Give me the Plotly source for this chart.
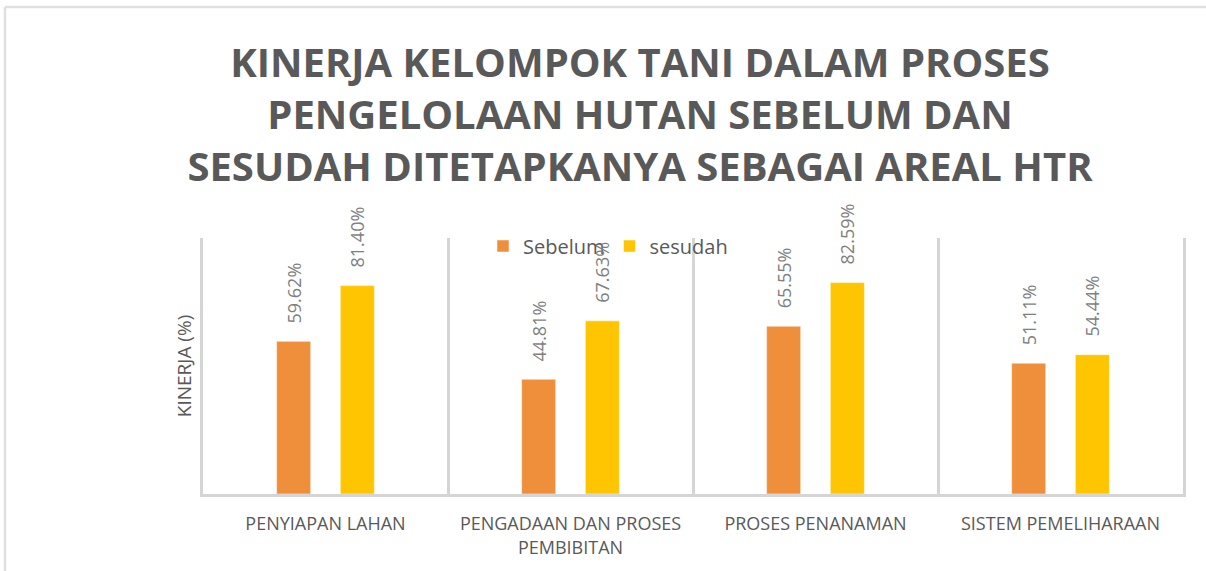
import plotly.graph_objects as go

categories = ["PENYIAPAN LAHAN", "PENGADAAN DAN PROSES<br>PEMBIBITAN", "PROSES PENANAMAN", "SISTEM PEMELIHARAAN"]
sebelum = [59.62, 44.81, 65.55, 51.11]
sesudah = [81.40, 67.63, 82.59, 54.44]
series_names = ["Sebelum", "sesudah"]
colors = ["#EF8F3C", "#FFC500"]

title_text = ("KINERJA KELOMPOK TANI DALAM PROSES<br>"
              "PENGELOLAAN HUTAN SEBELUM DAN<br>"
              "SESUDAH DITETAPKANYA SEBAGAI AREAL HTR")

fig = go.Figure()
for name, vals, col in zip(series_names, [sebelum, sesudah], colors):
    fig.add_trace(go.Bar(
        x=categories, y=vals, name=name,
        marker=dict(color=col, line=dict(color="#FFFFFF", width=0.5)),
    ))

# data labels (rotated), offset to sit over each bar of the group
plot_w = 1206 - 203 - 23
plot_h = 571 - 238 - 77
cat_w = plot_w / len(categories)
bargap = 0.48
slot = cat_w * (1 - bargap) / 2
for vals, sign in [(sebelum, -1), (sesudah, 1)]:
    for c, v in zip(categories, vals):
        fig.add_annotation(
            x=c, y=v, xref="x", yref="y",
            text=f"{v:.2f}%", showarrow=False, textangle=-90,
            xshift=sign * slot / 2, yshift=16,
            xanchor="center", yanchor="bottom",
            font=dict(family="Open Sans", size=18, color="#7F7F7F"),
        )

# chart border (top and left edges)
fig.add_shape(type="line", xref="paper", yref="paper",
              x0=-198 / plot_w, x1=1.03, y0=(494 - 7) / plot_h, y1=(494 - 7) / plot_h,
              line=dict(color="#E0E0E0", width=2.5))
fig.add_shape(type="line", xref="paper", yref="paper",
              x0=-198 / plot_w, x1=-198 / plot_w, y0=(494 - 7) / plot_h, y1=-80 / plot_h,
              line=dict(color="#E0E0E0", width=2.5))

fig.update_layout(
    width=1206, height=571,
    margin=dict(l=203, r=23, t=238, b=77),
    paper_bgcolor="white", plot_bgcolor="white",
    barmode="group", bargap=bargap, bargroupgap=0.465,
    title=dict(text=title_text, x=640 / 1206, xanchor="center", xref="container",
               y=1 - 77 / 571, yanchor="top", yref="container",
               font=dict(family="Open Sans", size=40, color="#595959", weight="bold")),
    legend=dict(orientation="h", x=(483 - 203) / plot_w, xanchor="left",
                y=(494 - 246) / plot_h, yanchor="middle",
                font=dict(family="Open Sans", size=20, color="#595959"),
                bgcolor="rgba(0,0,0,0)", itemwidth=30, tracegroupgap=0),
    xaxis=dict(type="category", tickson="boundaries", showgrid=True,
               gridcolor="#D5D5D5", gridwidth=2.5, showline=True,
               linecolor="#D5D5D5", linewidth=2.5, ticks="",
               tickfont=dict(family="Open Sans", size=18, color="#595959"),
               ticklabelstandoff=12),
    yaxis=dict(range=[0, 100], showticklabels=False, showgrid=False,
               zeroline=False, showline=True, mirror=True,
               linecolor="#D5D5D5", linewidth=2.5,
               title=dict(text="KINERJA (%)", standoff=4,
                          font=dict(family="Open Sans", size=19, color="#595959"))),
    showlegend=True,
)
fig.write_html("out.html", config={"displayModeBar": False},
               post_script="document.body.style.margin='0';")
